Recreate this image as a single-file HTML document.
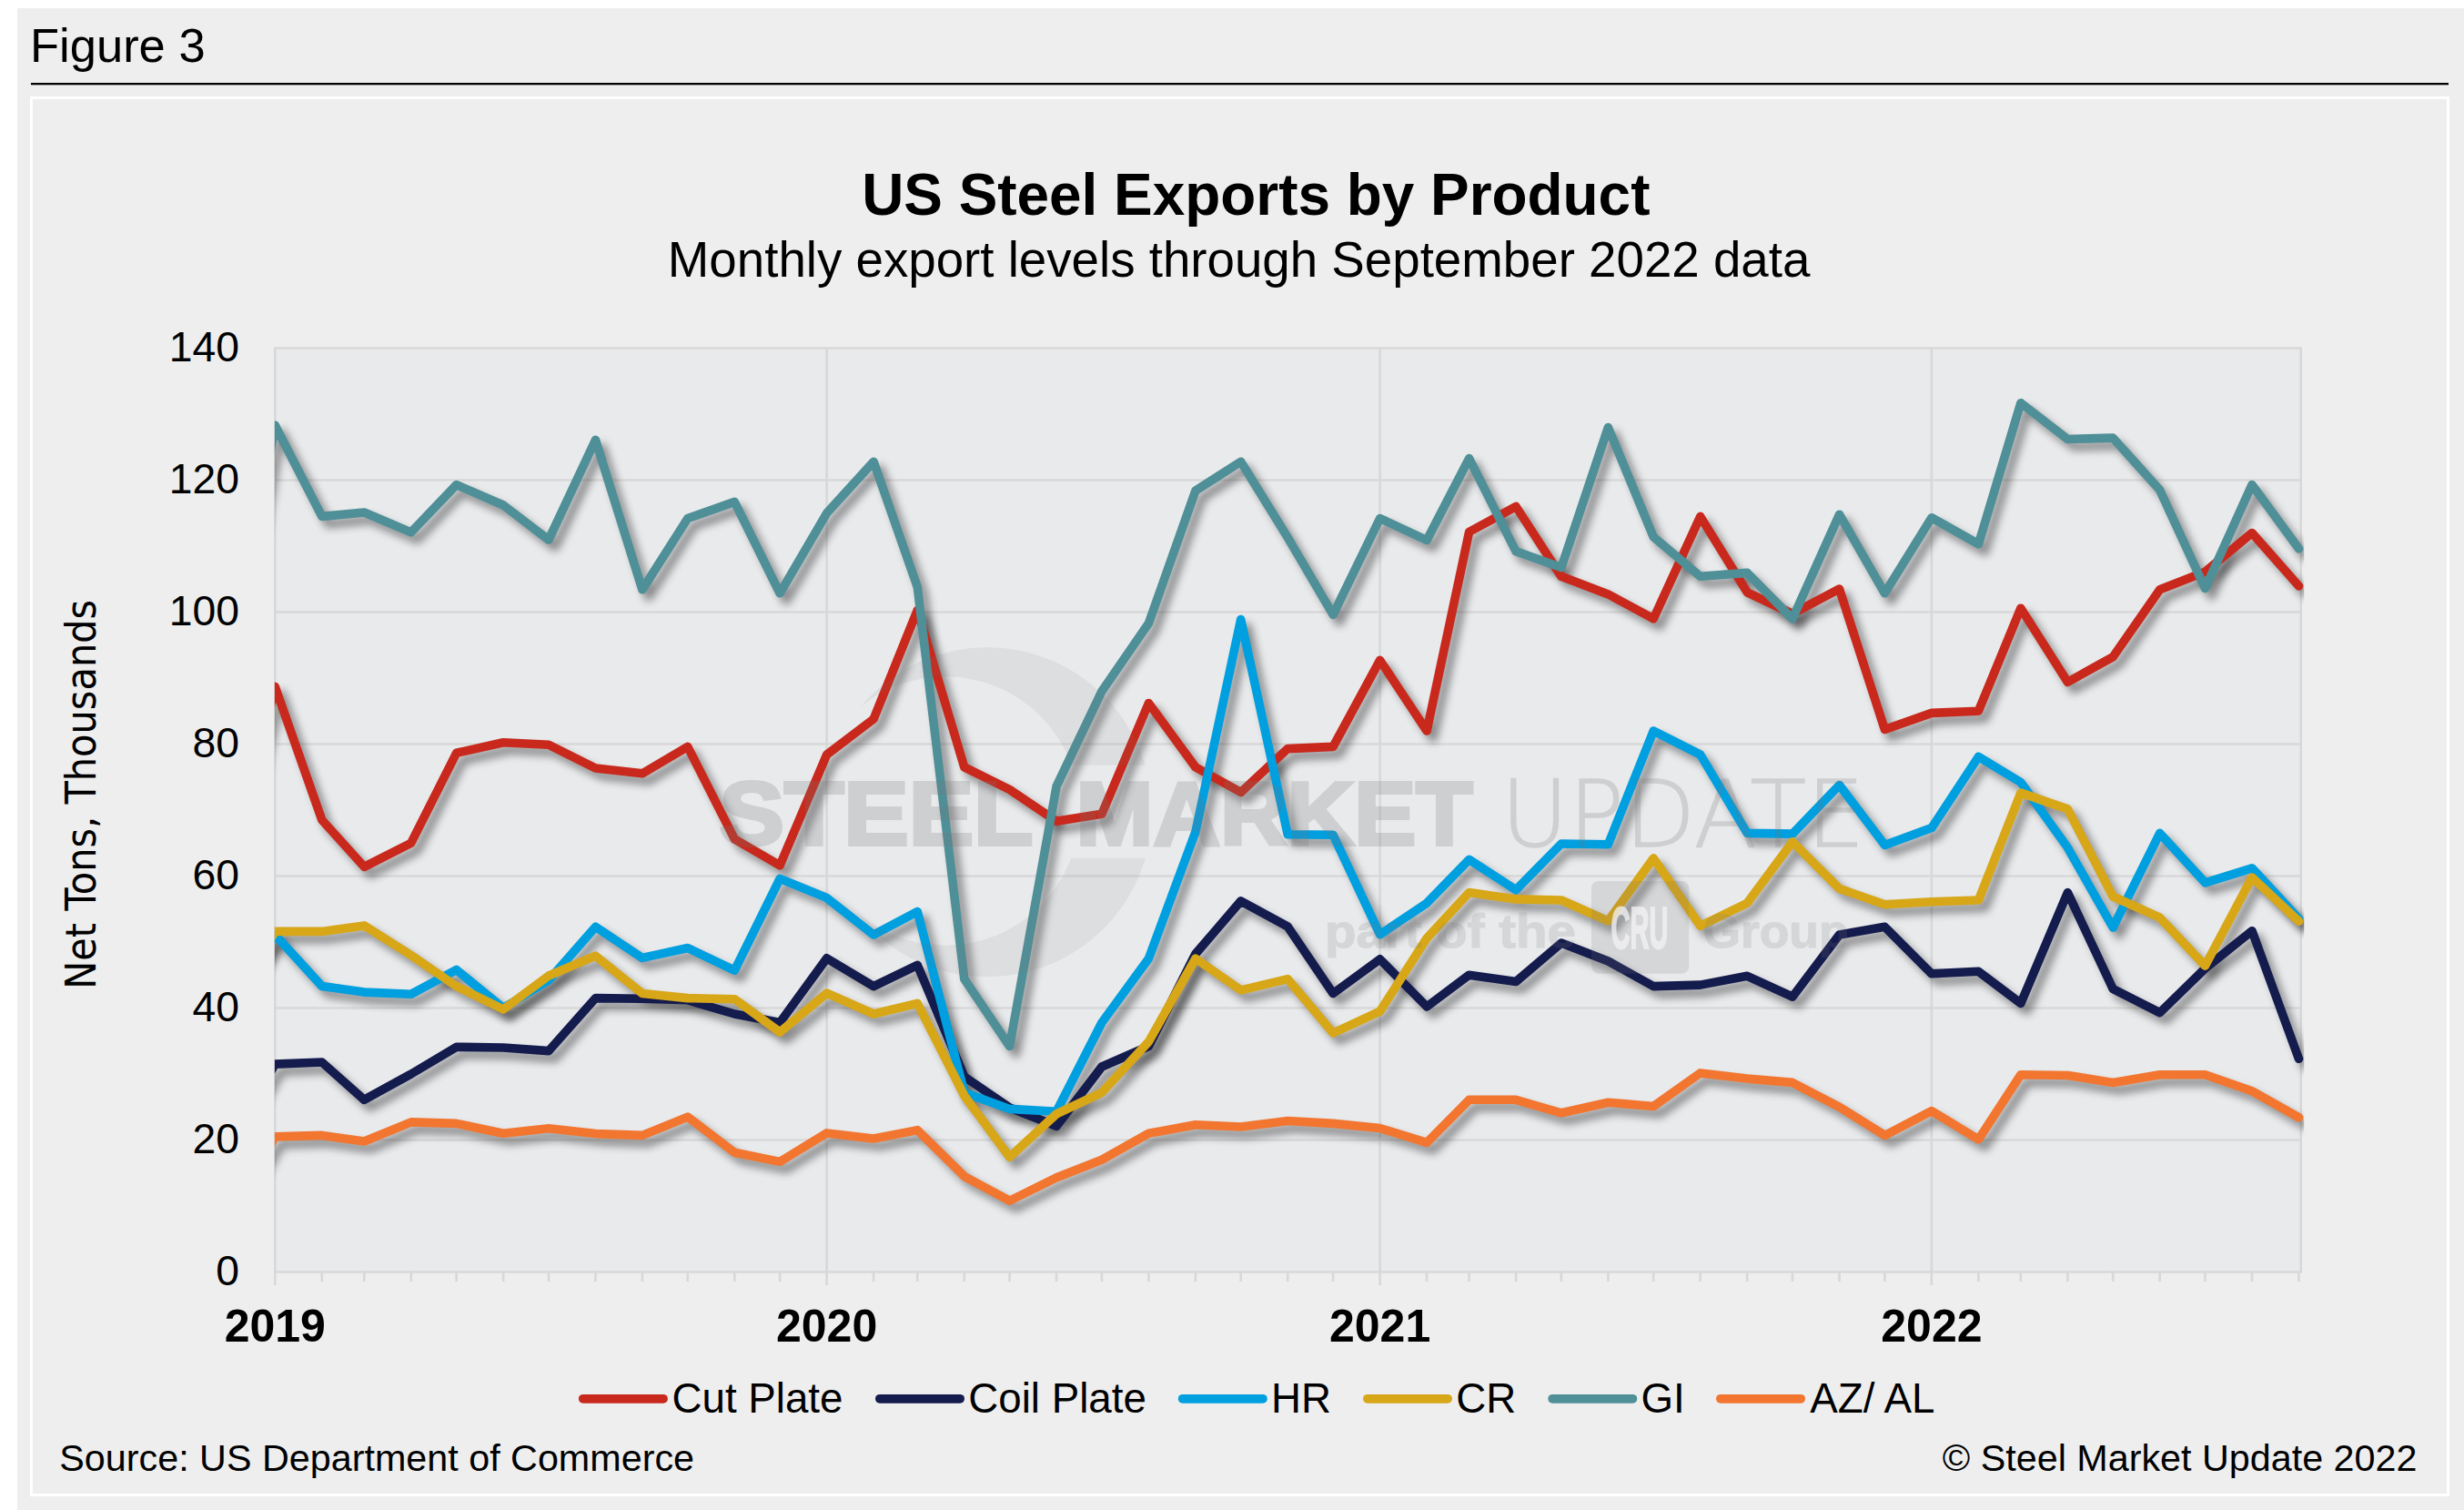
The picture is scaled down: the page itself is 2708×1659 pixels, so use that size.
<!DOCTYPE html>
<html lang="en"><head><meta charset="utf-8"><title>Figure 3 - US Steel Exports by Product</title>
<style>html,body{margin:0;padding:0;background:#fff}body{width:2708px;height:1659px;overflow:hidden}svg{display:block}text{font-family:"Liberation Sans", sans-serif;fill:#000}</style></head><body>
<svg width="2708" height="1659" viewBox="0 0 2708 1659">
<defs>
<filter id="sh" filterUnits="userSpaceOnUse" x="200" y="300" width="2400" height="1200"><feGaussianBlur in="SourceAlpha" stdDeviation="4.6"/><feOffset dx="6.5" dy="7.5"/><feComponentTransfer><feFuncA type="linear" slope="0.42"/></feComponentTransfer></filter>
<clipPath id="pc"><rect x="301.9" y="352.5" width="2230.3" height="1075.0"/></clipPath>
<mask id="wm" maskUnits="userSpaceOnUse" x="880" y="700" width="420" height="390"><circle cx="1085" cy="892.3" r="181" fill="#fff"/><circle cx="1039" cy="891" r="147.7" fill="#000"/><rect x="880" y="840.6" width="420" height="102.2" fill="#000"/></mask>
</defs>
<rect x="0" y="0" width="2708" height="1659" fill="#fff"/>
<rect x="19" y="9" width="2689" height="1650" fill="#eeeeee"/>
<text x="33" y="68.2" font-size="52.5">Figure 3</text>
<rect x="34" y="91" width="2657" height="2.3" fill="#000"/>
<rect x="34.5" y="107.5" width="2656" height="1535" fill="none" stroke="#fff" stroke-width="3"/>
<text x="1380.3" y="236.3" font-size="63.9" font-weight="bold" text-anchor="middle">US Steel Exports by Product</text>
<text x="1361.6" y="303.7" font-size="54.7" text-anchor="middle">Monthly export levels through September 2022 data</text>
<rect x="302.3" y="382.5" width="2226.4" height="1015.0" fill="#e9eaec"/>
<line x1="301.0" y1="382.50" x2="2530.0" y2="382.50" stroke="#d8d8d9" stroke-width="2.6"/>
<line x1="301.0" y1="527.50" x2="2530.0" y2="527.50" stroke="#d8d8d9" stroke-width="2.6"/>
<line x1="301.0" y1="672.50" x2="2530.0" y2="672.50" stroke="#d8d8d9" stroke-width="2.6"/>
<line x1="301.0" y1="817.50" x2="2530.0" y2="817.50" stroke="#d8d8d9" stroke-width="2.6"/>
<line x1="301.0" y1="962.50" x2="2530.0" y2="962.50" stroke="#d8d8d9" stroke-width="2.6"/>
<line x1="301.0" y1="1107.50" x2="2530.0" y2="1107.50" stroke="#d8d8d9" stroke-width="2.6"/>
<line x1="301.0" y1="1252.50" x2="2530.0" y2="1252.50" stroke="#d8d8d9" stroke-width="2.6"/>
<line x1="301.0" y1="1397.50" x2="2530.0" y2="1397.50" stroke="#d8d8d9" stroke-width="2.6"/>
<line x1="302.30" y1="382.5" x2="302.30" y2="1412.0" stroke="#d8d8d9" stroke-width="2.6"/>
<line x1="908.60" y1="382.5" x2="908.60" y2="1412.0" stroke="#d8d8d9" stroke-width="2.6"/>
<line x1="1516.56" y1="382.5" x2="1516.56" y2="1412.0" stroke="#d8d8d9" stroke-width="2.6"/>
<line x1="2122.87" y1="382.5" x2="2122.87" y2="1412.0" stroke="#d8d8d9" stroke-width="2.6"/>
<line x1="2528.70" y1="382.5" x2="2528.70" y2="1398.8" stroke="#d8d8d9" stroke-width="2.6"/>
<line x1="353.79" y1="1397.5" x2="353.79" y2="1408.0" stroke="#d8d8d9" stroke-width="2.6"/>
<line x1="400.30" y1="1397.5" x2="400.30" y2="1408.0" stroke="#d8d8d9" stroke-width="2.6"/>
<line x1="451.80" y1="1397.5" x2="451.80" y2="1408.0" stroke="#d8d8d9" stroke-width="2.6"/>
<line x1="501.63" y1="1397.5" x2="501.63" y2="1408.0" stroke="#d8d8d9" stroke-width="2.6"/>
<line x1="553.13" y1="1397.5" x2="553.13" y2="1408.0" stroke="#d8d8d9" stroke-width="2.6"/>
<line x1="602.96" y1="1397.5" x2="602.96" y2="1408.0" stroke="#d8d8d9" stroke-width="2.6"/>
<line x1="654.45" y1="1397.5" x2="654.45" y2="1408.0" stroke="#d8d8d9" stroke-width="2.6"/>
<line x1="705.95" y1="1397.5" x2="705.95" y2="1408.0" stroke="#d8d8d9" stroke-width="2.6"/>
<line x1="755.78" y1="1397.5" x2="755.78" y2="1408.0" stroke="#d8d8d9" stroke-width="2.6"/>
<line x1="807.27" y1="1397.5" x2="807.27" y2="1408.0" stroke="#d8d8d9" stroke-width="2.6"/>
<line x1="857.11" y1="1397.5" x2="857.11" y2="1408.0" stroke="#d8d8d9" stroke-width="2.6"/>
<line x1="960.10" y1="1397.5" x2="960.10" y2="1408.0" stroke="#d8d8d9" stroke-width="2.6"/>
<line x1="1008.27" y1="1397.5" x2="1008.27" y2="1408.0" stroke="#d8d8d9" stroke-width="2.6"/>
<line x1="1059.76" y1="1397.5" x2="1059.76" y2="1408.0" stroke="#d8d8d9" stroke-width="2.6"/>
<line x1="1109.59" y1="1397.5" x2="1109.59" y2="1408.0" stroke="#d8d8d9" stroke-width="2.6"/>
<line x1="1161.09" y1="1397.5" x2="1161.09" y2="1408.0" stroke="#d8d8d9" stroke-width="2.6"/>
<line x1="1210.92" y1="1397.5" x2="1210.92" y2="1408.0" stroke="#d8d8d9" stroke-width="2.6"/>
<line x1="1262.42" y1="1397.5" x2="1262.42" y2="1408.0" stroke="#d8d8d9" stroke-width="2.6"/>
<line x1="1313.91" y1="1397.5" x2="1313.91" y2="1408.0" stroke="#d8d8d9" stroke-width="2.6"/>
<line x1="1363.74" y1="1397.5" x2="1363.74" y2="1408.0" stroke="#d8d8d9" stroke-width="2.6"/>
<line x1="1415.24" y1="1397.5" x2="1415.24" y2="1408.0" stroke="#d8d8d9" stroke-width="2.6"/>
<line x1="1465.07" y1="1397.5" x2="1465.07" y2="1408.0" stroke="#d8d8d9" stroke-width="2.6"/>
<line x1="1568.06" y1="1397.5" x2="1568.06" y2="1408.0" stroke="#d8d8d9" stroke-width="2.6"/>
<line x1="1614.57" y1="1397.5" x2="1614.57" y2="1408.0" stroke="#d8d8d9" stroke-width="2.6"/>
<line x1="1666.06" y1="1397.5" x2="1666.06" y2="1408.0" stroke="#d8d8d9" stroke-width="2.6"/>
<line x1="1715.90" y1="1397.5" x2="1715.90" y2="1408.0" stroke="#d8d8d9" stroke-width="2.6"/>
<line x1="1767.39" y1="1397.5" x2="1767.39" y2="1408.0" stroke="#d8d8d9" stroke-width="2.6"/>
<line x1="1817.22" y1="1397.5" x2="1817.22" y2="1408.0" stroke="#d8d8d9" stroke-width="2.6"/>
<line x1="1868.72" y1="1397.5" x2="1868.72" y2="1408.0" stroke="#d8d8d9" stroke-width="2.6"/>
<line x1="1920.21" y1="1397.5" x2="1920.21" y2="1408.0" stroke="#d8d8d9" stroke-width="2.6"/>
<line x1="1970.04" y1="1397.5" x2="1970.04" y2="1408.0" stroke="#d8d8d9" stroke-width="2.6"/>
<line x1="2021.54" y1="1397.5" x2="2021.54" y2="1408.0" stroke="#d8d8d9" stroke-width="2.6"/>
<line x1="2071.37" y1="1397.5" x2="2071.37" y2="1408.0" stroke="#d8d8d9" stroke-width="2.6"/>
<line x1="2174.36" y1="1397.5" x2="2174.36" y2="1408.0" stroke="#d8d8d9" stroke-width="2.6"/>
<line x1="2220.87" y1="1397.5" x2="2220.87" y2="1408.0" stroke="#d8d8d9" stroke-width="2.6"/>
<line x1="2272.36" y1="1397.5" x2="2272.36" y2="1408.0" stroke="#d8d8d9" stroke-width="2.6"/>
<line x1="2322.20" y1="1397.5" x2="2322.20" y2="1408.0" stroke="#d8d8d9" stroke-width="2.6"/>
<line x1="2373.69" y1="1397.5" x2="2373.69" y2="1408.0" stroke="#d8d8d9" stroke-width="2.6"/>
<line x1="2423.52" y1="1397.5" x2="2423.52" y2="1408.0" stroke="#d8d8d9" stroke-width="2.6"/>
<line x1="2475.02" y1="1397.5" x2="2475.02" y2="1408.0" stroke="#d8d8d9" stroke-width="2.6"/>
<line x1="2526.51" y1="1397.5" x2="2526.51" y2="1408.0" stroke="#d8d8d9" stroke-width="2.6"/>
<text x="263" y="397.1" font-size="46.3" text-anchor="end">140</text>
<text x="263" y="542.1" font-size="46.3" text-anchor="end">120</text>
<text x="263" y="687.1" font-size="46.3" text-anchor="end">100</text>
<text x="263" y="832.1" font-size="46.3" text-anchor="end">80</text>
<text x="263" y="977.1" font-size="46.3" text-anchor="end">60</text>
<text x="263" y="1122.1" font-size="46.3" text-anchor="end">40</text>
<text x="263" y="1267.1" font-size="46.3" text-anchor="end">20</text>
<text x="263" y="1412.1" font-size="46.3" text-anchor="end">0</text>
<text x="302.3" y="1474" font-size="50" font-weight="bold" text-anchor="middle">2019</text>
<text x="908.6" y="1474" font-size="50" font-weight="bold" text-anchor="middle">2020</text>
<text x="1516.6" y="1474" font-size="50" font-weight="bold" text-anchor="middle">2021</text>
<text x="2122.9" y="1474" font-size="50" font-weight="bold" text-anchor="middle">2022</text>
<text transform="translate(104.5,872.8) rotate(-90)" font-size="46" text-anchor="middle" textLength="428" lengthAdjust="spacingAndGlyphs" style="font-family:'DejaVu Sans Condensed','DejaVu Sans',sans-serif">Net Tons, Thousands</text>
<g clip-path="url(#pc)" fill="none" stroke-width="9.6" stroke-linejoin="round" stroke-linecap="round">
<polyline filter="url(#sh)" stroke="#000" points="250.8,977.0 302.3,754.4 353.8,900.9 400.3,952.4 451.8,926.2 501.6,827.3 553.1,815.7 603.0,818.2 654.5,844.0 705.9,849.8 755.8,820.4 807.3,921.9 857.1,950.9 908.6,829.1 960.1,790.0 1008.3,670.3 1059.8,842.9 1109.6,867.5 1161.1,902.3 1210.9,894.3 1262.4,772.5 1313.9,842.9 1363.7,870.4 1415.2,822.6 1465.1,820.4 1516.6,725.4 1568.1,803.0 1614.6,584.4 1666.1,556.5 1715.9,633.3 1767.4,652.9 1817.2,679.8 1868.7,567.4 1920.2,650.8 1970.0,674.3 2021.5,647.1 2071.4,801.5 2122.9,783.4 2174.4,781.2 2220.9,668.2 2272.4,749.4 2322.2,721.8 2373.7,647.8 2423.5,628.3 2475.0,585.5 2526.5,643.9"/>
<polyline filter="url(#sh)" stroke="#000" points="250.8,1259.8 302.3,1169.1 353.8,1167.0 400.3,1208.3 451.8,1180.0 501.6,1150.3 553.1,1151.0 603.0,1154.6 654.5,1096.6 705.9,1097.3 755.8,1098.8 807.3,1114.0 857.1,1123.5 908.6,1052.8 960.1,1083.6 1008.3,1060.4 1059.8,1182.9 1109.6,1217.0 1161.1,1237.3 1210.9,1172.0 1262.4,1149.5 1313.9,1048.0 1363.7,990.0 1415.2,1018.0 1465.1,1091.5 1516.6,1053.8 1568.1,1106.0 1614.6,1071.2 1666.1,1078.5 1715.9,1036.1 1767.4,1056.0 1817.2,1083.6 1868.7,1082.1 1920.2,1072.3 1970.0,1095.2 2021.5,1027.0 2071.4,1018.3 2122.9,1069.8 2174.4,1067.3 2220.9,1102.4 2272.4,980.6 2322.2,1086.5 2373.7,1112.6 2423.5,1064.0 2475.0,1022.7 2526.5,1163.3"/>
<polyline filter="url(#sh)" stroke="#000" points="250.8,1114.8 302.3,1027.0 353.8,1083.6 400.3,1090.1 451.8,1092.3 501.6,1065.5 553.1,1107.5 603.0,1077.0 654.5,1018.3 705.9,1052.4 755.8,1041.5 807.3,1066.2 857.1,965.4 908.6,986.4 960.1,1027.0 1008.3,1001.6 1059.8,1200.3 1109.6,1218.4 1161.1,1221.3 1210.9,1123.5 1262.4,1053.1 1313.9,913.9 1363.7,680.5 1415.2,916.8 1465.1,917.2 1516.6,1026.7 1568.1,992.2 1614.6,944.4 1666.1,977.7 1715.9,927.0 1767.4,927.7 1817.2,803.0 1868.7,829.1 1920.2,915.4 1970.0,916.1 2021.5,862.5 2071.4,928.4 2122.9,909.6 2174.4,831.3 2220.9,859.5 2272.4,931.3 2322.2,1019.0 2373.7,915.4 2423.5,969.8 2475.0,953.8 2526.5,1009.6"/>
<polyline filter="url(#sh)" stroke="#000" points="250.8,1107.5 302.3,1023.4 353.8,1023.4 400.3,1016.9 451.8,1049.5 501.6,1083.6 553.1,1109.0 603.0,1072.0 654.5,1050.2 705.9,1091.5 755.8,1096.6 807.3,1097.7 857.1,1134.0 908.6,1091.2 960.1,1114.0 1008.3,1102.4 1059.8,1203.9 1109.6,1271.3 1161.1,1223.9 1210.9,1200.3 1262.4,1144.5 1313.9,1053.1 1363.7,1087.9 1415.2,1075.6 1465.1,1135.0 1516.6,1111.1 1568.1,1030.7 1614.6,980.6 1666.1,987.9 1715.9,989.0 1767.4,1011.8 1817.2,942.9 1868.7,1017.2 1920.2,992.2 1970.0,924.8 2021.5,976.3 2071.4,993.7 2122.9,990.8 2174.4,989.0 2220.9,871.1 2272.4,888.9 2322.2,985.0 2373.7,1008.2 2423.5,1061.1 2475.0,964.0 2526.5,1012.2"/>
<polyline filter="url(#sh)" stroke="#000" points="250.8,759.5 302.3,467.3 353.8,567.4 400.3,563.0 451.8,584.8 501.6,532.6 553.1,555.0 603.0,593.1 654.5,483.3 705.9,647.8 755.8,569.5 807.3,551.4 857.1,651.8 908.6,563.8 960.1,507.2 1008.3,645.0 1059.8,1075.6 1109.6,1149.5 1161.1,863.9 1210.9,759.5 1262.4,684.8 1313.9,539.1 1363.7,507.2 1415.2,590.6 1465.1,675.4 1516.6,569.5 1568.1,593.5 1614.6,503.6 1666.1,605.8 1715.9,623.6 1767.4,469.5 1817.2,589.9 1868.7,633.3 1920.2,629.4 1970.0,679.8 2021.5,565.2 2071.4,651.8 2122.9,568.8 2174.4,597.8 2220.9,442.7 2272.4,482.5 2322.2,481.1 2373.7,538.4 2423.5,646.4 2475.0,532.6 2526.5,602.9"/>
<polyline filter="url(#sh)" stroke="#000" points="250.8,1339.5 302.3,1248.9 353.8,1247.4 400.3,1254.0 451.8,1232.9 501.6,1234.4 553.1,1245.2 603.0,1239.8 654.5,1245.6 705.9,1247.4 755.8,1227.1 807.3,1266.3 857.1,1276.4 908.6,1244.9 960.1,1251.0 1008.3,1241.6 1059.8,1292.4 1109.6,1319.2 1161.1,1293.8 1210.9,1274.2 1262.4,1245.2 1313.9,1235.8 1363.7,1238.0 1415.2,1231.5 1465.1,1234.4 1516.6,1239.5 1568.1,1255.4 1614.6,1208.3 1666.1,1208.3 1715.9,1222.8 1767.4,1211.2 1817.2,1215.5 1868.7,1178.9 1920.2,1185.1 1970.0,1189.4 2021.5,1216.2 2071.4,1247.4 2122.9,1220.6 2174.4,1251.8 2220.9,1180.7 2272.4,1181.5 2322.2,1189.4 2373.7,1180.7 2423.5,1180.7 2475.0,1198.8 2526.5,1227.8"/>
<polyline stroke="#C8291C" points="250.8,977.0 302.3,754.4 353.8,900.9 400.3,952.4 451.8,926.2 501.6,827.3 553.1,815.7 603.0,818.2 654.5,844.0 705.9,849.8 755.8,820.4 807.3,921.9 857.1,950.9 908.6,829.1 960.1,790.0 1008.3,670.3 1059.8,842.9 1109.6,867.5 1161.1,902.3 1210.9,894.3 1262.4,772.5 1313.9,842.9 1363.7,870.4 1415.2,822.6 1465.1,820.4 1516.6,725.4 1568.1,803.0 1614.6,584.4 1666.1,556.5 1715.9,633.3 1767.4,652.9 1817.2,679.8 1868.7,567.4 1920.2,650.8 1970.0,674.3 2021.5,647.1 2071.4,801.5 2122.9,783.4 2174.4,781.2 2220.9,668.2 2272.4,749.4 2322.2,721.8 2373.7,647.8 2423.5,628.3 2475.0,585.5 2526.5,643.9"/>
<polyline stroke="#141B4D" points="250.8,1259.8 302.3,1169.1 353.8,1167.0 400.3,1208.3 451.8,1180.0 501.6,1150.3 553.1,1151.0 603.0,1154.6 654.5,1096.6 705.9,1097.3 755.8,1098.8 807.3,1114.0 857.1,1123.5 908.6,1052.8 960.1,1083.6 1008.3,1060.4 1059.8,1182.9 1109.6,1217.0 1161.1,1237.3 1210.9,1172.0 1262.4,1149.5 1313.9,1048.0 1363.7,990.0 1415.2,1018.0 1465.1,1091.5 1516.6,1053.8 1568.1,1106.0 1614.6,1071.2 1666.1,1078.5 1715.9,1036.1 1767.4,1056.0 1817.2,1083.6 1868.7,1082.1 1920.2,1072.3 1970.0,1095.2 2021.5,1027.0 2071.4,1018.3 2122.9,1069.8 2174.4,1067.3 2220.9,1102.4 2272.4,980.6 2322.2,1086.5 2373.7,1112.6 2423.5,1064.0 2475.0,1022.7 2526.5,1163.3"/>
<polyline stroke="#009FDF" points="250.8,1114.8 302.3,1027.0 353.8,1083.6 400.3,1090.1 451.8,1092.3 501.6,1065.5 553.1,1107.5 603.0,1077.0 654.5,1018.3 705.9,1052.4 755.8,1041.5 807.3,1066.2 857.1,965.4 908.6,986.4 960.1,1027.0 1008.3,1001.6 1059.8,1200.3 1109.6,1218.4 1161.1,1221.3 1210.9,1123.5 1262.4,1053.1 1313.9,913.9 1363.7,680.5 1415.2,916.8 1465.1,917.2 1516.6,1026.7 1568.1,992.2 1614.6,944.4 1666.1,977.7 1715.9,927.0 1767.4,927.7 1817.2,803.0 1868.7,829.1 1920.2,915.4 1970.0,916.1 2021.5,862.5 2071.4,928.4 2122.9,909.6 2174.4,831.3 2220.9,859.5 2272.4,931.3 2322.2,1019.0 2373.7,915.4 2423.5,969.8 2475.0,953.8 2526.5,1009.6"/>
<polyline stroke="#D7A718" points="250.8,1107.5 302.3,1023.4 353.8,1023.4 400.3,1016.9 451.8,1049.5 501.6,1083.6 553.1,1109.0 603.0,1072.0 654.5,1050.2 705.9,1091.5 755.8,1096.6 807.3,1097.7 857.1,1134.0 908.6,1091.2 960.1,1114.0 1008.3,1102.4 1059.8,1203.9 1109.6,1271.3 1161.1,1223.9 1210.9,1200.3 1262.4,1144.5 1313.9,1053.1 1363.7,1087.9 1415.2,1075.6 1465.1,1135.0 1516.6,1111.1 1568.1,1030.7 1614.6,980.6 1666.1,987.9 1715.9,989.0 1767.4,1011.8 1817.2,942.9 1868.7,1017.2 1920.2,992.2 1970.0,924.8 2021.5,976.3 2071.4,993.7 2122.9,990.8 2174.4,989.0 2220.9,871.1 2272.4,888.9 2322.2,985.0 2373.7,1008.2 2423.5,1061.1 2475.0,964.0 2526.5,1012.2"/>
<polyline stroke="#4F8F98" points="250.8,759.5 302.3,467.3 353.8,567.4 400.3,563.0 451.8,584.8 501.6,532.6 553.1,555.0 603.0,593.1 654.5,483.3 705.9,647.8 755.8,569.5 807.3,551.4 857.1,651.8 908.6,563.8 960.1,507.2 1008.3,645.0 1059.8,1075.6 1109.6,1149.5 1161.1,863.9 1210.9,759.5 1262.4,684.8 1313.9,539.1 1363.7,507.2 1415.2,590.6 1465.1,675.4 1516.6,569.5 1568.1,593.5 1614.6,503.6 1666.1,605.8 1715.9,623.6 1767.4,469.5 1817.2,589.9 1868.7,633.3 1920.2,629.4 1970.0,679.8 2021.5,565.2 2071.4,651.8 2122.9,568.8 2174.4,597.8 2220.9,442.7 2272.4,482.5 2322.2,481.1 2373.7,538.4 2423.5,646.4 2475.0,532.6 2526.5,602.9"/>
<polyline stroke="#F27630" points="250.8,1339.5 302.3,1248.9 353.8,1247.4 400.3,1254.0 451.8,1232.9 501.6,1234.4 553.1,1245.2 603.0,1239.8 654.5,1245.6 705.9,1247.4 755.8,1227.1 807.3,1266.3 857.1,1276.4 908.6,1244.9 960.1,1251.0 1008.3,1241.6 1059.8,1292.4 1109.6,1319.2 1161.1,1293.8 1210.9,1274.2 1262.4,1245.2 1313.9,1235.8 1363.7,1238.0 1415.2,1231.5 1465.1,1234.4 1516.6,1239.5 1568.1,1255.4 1614.6,1208.3 1666.1,1208.3 1715.9,1222.8 1767.4,1211.2 1817.2,1215.5 1868.7,1178.9 1920.2,1185.1 1970.0,1189.4 2021.5,1216.2 2071.4,1247.4 2122.9,1220.6 2174.4,1251.8 2220.9,1180.7 2272.4,1181.5 2322.2,1189.4 2373.7,1180.7 2423.5,1180.7 2475.0,1198.8 2526.5,1227.8"/>
</g>
<g>
<rect x="880" y="700" width="420" height="390" mask="url(#wm)" fill="#777779" fill-opacity="0.10"/>
<g opacity="0.23" style="fill:#777779;stroke:#777779;stroke-width:4;stroke-linejoin:miter" font-size="97.8" font-weight="bold"><text x="790.5" y="928" textLength="345" lengthAdjust="spacingAndGlyphs" style="fill:#777779">STEEL</text><text x="1182.5" y="928" textLength="436" lengthAdjust="spacingAndGlyphs" style="fill:#777779">MARKET</text></g>
<g opacity="0.23"><text x="1649.5" y="930" font-size="102" textLength="400" lengthAdjust="spacingAndGlyphs" style="font-family:'DejaVu Sans Light','Liberation Sans',sans-serif;fill:#777779;stroke:#777779;stroke-width:1.3">UPDATE</text></g>
<g opacity="0.17"><text x="1456" y="1041.4" font-size="52" font-weight="bold" textLength="276" lengthAdjust="spacingAndGlyphs" style="fill:#777779;stroke:#777779;stroke-width:1.2">part of the</text></g>
<rect x="1749" y="968" width="107.3" height="101.7" rx="8" fill="#777779" fill-opacity="0.17"/>
<g opacity="0.75"><text x="1770.5" y="1042" font-size="65" font-weight="bold" textLength="63" lengthAdjust="spacingAndGlyphs" style="fill:#f4f4f6;stroke:#f4f4f6;stroke-width:2">CRU</text></g>
<g opacity="0.17"><text x="1871.5" y="1041.4" font-size="52" font-weight="bold" textLength="160" lengthAdjust="spacingAndGlyphs" style="fill:#777779;stroke:#777779;stroke-width:1.2">Group</text></g>
</g>
<line x1="640.8" y1="1536.8" x2="729.0" y2="1536.8" stroke="#C8291C" stroke-width="9.8" stroke-linecap="round"/>
<text x="738.5" y="1552.2" font-size="45.7">Cut Plate</text>
<line x1="966.9" y1="1536.8" x2="1055.1" y2="1536.8" stroke="#141B4D" stroke-width="9.8" stroke-linecap="round"/>
<text x="1064.3" y="1552.2" font-size="45.7">Coil Plate</text>
<line x1="1299.7" y1="1536.8" x2="1387.9" y2="1536.8" stroke="#009FDF" stroke-width="9.8" stroke-linecap="round"/>
<text x="1397.0" y="1552.2" font-size="45.7">HR</text>
<line x1="1502.9" y1="1536.8" x2="1591.1" y2="1536.8" stroke="#D7A718" stroke-width="9.8" stroke-linecap="round"/>
<text x="1600.3" y="1552.2" font-size="45.7">CR</text>
<line x1="1706.2" y1="1536.8" x2="1794.4" y2="1536.8" stroke="#4F8F98" stroke-width="9.8" stroke-linecap="round"/>
<text x="1803.5" y="1552.2" font-size="45.7">GI</text>
<line x1="1890.9" y1="1536.8" x2="1979.1" y2="1536.8" stroke="#F27630" stroke-width="9.8" stroke-linecap="round"/>
<text x="1989.3" y="1552.2" font-size="45.7">AZ/ AL</text>
<text x="65.3" y="1616" font-size="41.3">Source: US Department of Commerce</text>
<text x="2656.5" y="1615.7" font-size="41.3" text-anchor="end">© Steel Market Update 2022</text>
</svg></body></html>
